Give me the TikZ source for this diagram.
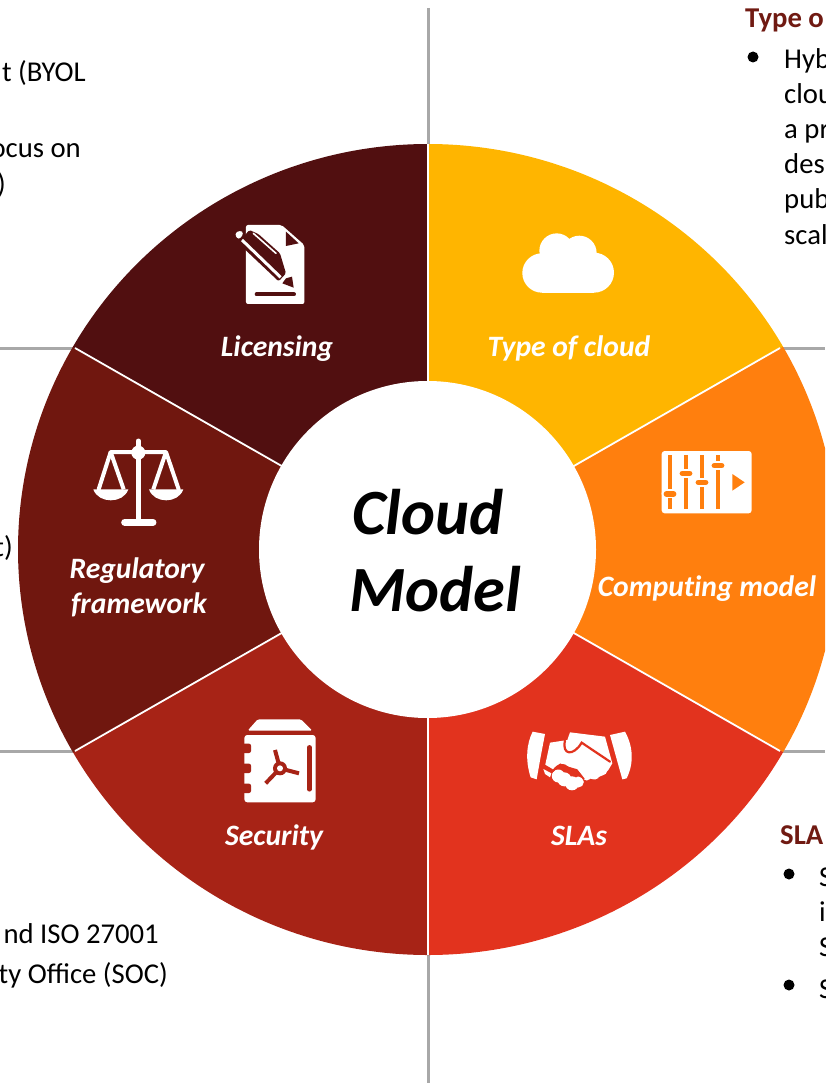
\documentclass[tikz,border=0pt]{standalone}
\usepackage{fontspec}
\setmainfont{Carlito}
\definecolor{cyellow}{HTML}{FFB500}
\definecolor{corange}{HTML}{FF7F0E}
\definecolor{cred}{HTML}{E2331E}
\definecolor{csec}{HTML}{A72316}
\definecolor{creg}{HTML}{70170F}
\definecolor{clic}{HTML}{510F10}
\definecolor{ctitle}{HTML}{701A12}
\definecolor{cgray}{HTML}{A8A8A8}
\tikzset{
 seglabel/.style={text=white,font=\fontsize{29.6}{32}\selectfont\bfseries\itshape\addfontfeatures{Ligatures=NoCommon},inner sep=0pt},
 bodytext/.style={text=black,font=\fontsize{28.7}{34}\selectfont,inner sep=0pt},
 headtext/.style={text=ctitle,font=\fontsize{28.7}{34}\selectfont\bfseries,inner sep=0pt},
 hubtext/.style={text=black,font=\fontsize{64.5}{70}\selectfont\bfseries\itshape,inner sep=0pt},
 guide/.style={draw=cgray,line width=3pt},
 sep/.style={draw=white,line width=1.8pt},
 bullet/.style={fill=black,circle,minimum size=11pt,inner sep=0pt},
}
\newcommand{\pieslice}[3]{\fill[#1] (428,549.5) -- ({428+410*cos(#2)},{549.5-405.5*sin(#2)}) arc[start angle=#2,end angle=#3,x radius=410pt,y radius=405.5pt] -- cycle;}
\begin{document}
\begin{tikzpicture}[x=1pt,y=-1pt]
\useasboundingbox (0,0) rectangle (825,1083);
\begin{scope}
\clip (0,0) rectangle (825,1083);
\coordinate (c) at (428,549.5);
\coordinate (gt0) at (428,8); \coordinate (gt1) at (428,144);
\coordinate (gb0) at (428,955); \coordinate (gb1) at (428,1083);
\coordinate (gl0) at (0,348); \coordinate (gl1) at (75,348);
\coordinate (gl2) at (0,751); \coordinate (gl3) at (75,751);
\coordinate (gr0) at (780,348); \coordinate (gr1) at (825,348);
\coordinate (gr2) at (780,751); \coordinate (gr3) at (825,751);
\draw[guide] (gt0)--(gt1); \draw[guide] (gb0)--(gb1);
\draw[guide] (gl0)--(gl1); \draw[guide] (gl2)--(gl3);
\draw[guide] (gr0)--(gr1); \draw[guide] (gr2)--(gr3);
\pieslice{cyellow}{30}{90}
\pieslice{corange}{-30}{30}
\pieslice{cred}{-90}{-30}
\pieslice{csec}{-150}{-90}
\pieslice{creg}{150}{210}
\pieslice{clic}{90}{150}
\draw[sep] (c)--(428,144);
\draw[sep] (c)--(428,955);
\draw[sep] (c)--(gr0);
\draw[sep] (c)--(gr2);
\draw[sep] (c)--(gl1);
\draw[sep] (c)--(gl3);
\node[circle,fill=white,minimum size=337pt,inner sep=0pt] (hub) at (427.5,549.5) {};
\node[hubtext,anchor=base] (h1) at (428,534) {Cloud};
\node[hubtext,anchor=base] (h2) at (435.5,611) {Model};
% labels
\node[seglabel,anchor=base] (l1) at (277,356.5) {Licensing};
\node[seglabel,anchor=base] (l2) at (569,356.5) {Type of cloud};
\node[seglabel,anchor=base] (l3) at (707,596.5) {Computing model};
\node[seglabel,anchor=base] (l4) at (137,578.5) {Regulatory};
\node[seglabel,anchor=base] (l5) at (139,613.5) {framework};
\node[seglabel,anchor=base] (l6) at (274,845.5) {Security};
\node[seglabel,anchor=base] (l7) at (579,845.5) {SLAs};
% side text
\node[headtext,anchor=base west] (t1) at (745,28) {Type o};
\node[bullet] (b1) at (753,57) {};
\node[bodytext,anchor=base west] (t2) at (784,69) {Hyb};
\node[bodytext,anchor=base west] (t3) at (784,104) {clou};
\node[bodytext,anchor=base west] (t4) at (784,139) {a pr};
\node[bodytext,anchor=base west] (t5) at (784,174) {des};
\node[bodytext,anchor=base west] (t6) at (784,209) {pub};
\node[bodytext,anchor=base west] (t7) at (784,244) {scal};
\node[headtext,anchor=base west] (t8) at (780,844) {SLA};
\node[bullet] (b2) at (789,874) {};
\node[bullet] (b3) at (789,985) {};
\node[bodytext,anchor=base west] (t9) at (819,886) {S};
\node[bodytext,anchor=base west] (t10) at (819,921) {i};
\node[bodytext,anchor=base west] (t11) at (819,956) {S};
\node[bodytext,anchor=base west] (t12) at (819,998) {S};
\node[bodytext,anchor=base east] (t13) at (86,82) {t (BYOL};
\node[bodytext,anchor=base east] (t14) at (81,158) {ocus on};
\node[bodytext,anchor=base east] (t15) at (6,194) {)};
\node[bodytext,anchor=base east] (t16) at (13,556) {t)};
\node[bodytext,anchor=base east] (t17) at (159,943) {nd ISO 27001};
\node[bodytext,anchor=base east] (t18) at (168,983) {ty Office (SOC)};
% licensing icon
\begin{scope}[shift={(200,210)},x=0.3333pt,y=-0.3333pt]
\fill[white,rounded corners=2pt] (138,45) -- (245,45) -- (313,105) -- (313,282) -- (138,282) -- cycle;
\fill[clic] (258,65) -- (258,108) -- (296,100) -- cycle;
\draw[clic,line width=4pt,line cap=round] (170,253) -- (282,253);
\fill[clic,rounded corners=1.5pt] (148,60) -- (175,72) -- (240,130) -- (258,190) -- (236,214) -- (128,112) -- (118,96) -- cycle;
\draw[white,line width=3pt] (126,90) -- (242,202);
\draw[white,line width=1.6pt,line cap=round] (160,70) -- (228,130);
\fill[white,rounded corners=3pt] (103,72) -- (120,60) -- (132,70) -- (116,90) -- cycle;
\fill[clic] (258,205) -- (276,200) -- (281,233) -- (247,220) -- cycle;
\end{scope}
% cloud icon
\begin{scope}[shift={(510,220)},x=0.3333pt,y=-0.3333pt]
\fill[white] (96,159) circle[radius=19.7pt];
\fill[white] (252,158) circle[radius=20pt];
\fill[white] (140,92) circle[radius=17.3pt];
\fill[white] (208,99) circle[radius=17.3pt];
\fill[white] (96,100) rectangle (252,218);
\end{scope}
% computing icon
\begin{scope}[shift={(640,440)},x=0.3333pt,y=-0.3333pt]
\fill[white,rounded corners=3pt] (65,33) rectangle (335,220);
\fill[corange] (277,102) -- (277,152) -- (314,127) -- cycle;
\foreach \px/\py in {90/162,138/100,186/127,234/77}{
 \draw[corange,line width=4pt] (\px,45) -- (\px,208);
 \draw[white,line width=9pt,line cap=round] (\px-12,\py) -- (\px+12,\py);
 \draw[corange,line width=5.5pt,line cap=round] (\px-11,\py) -- (\px+11,\py);
}
\end{scope}
% handshake icon
\begin{scope}[shift={(510,720)},x=0.3333pt,y=-0.3333pt]
\fill[white] (68,35) -- (105,42) -- (92,110) -- (80,178) -- (62,172) .. controls (45,120) and (50,70) .. cycle;
\fill[white] (300,45) -- (345,35) .. controls (370,80) and (372,130) .. (350,175) -- (337,178) -- (318,110) -- cycle;
\fill[white] (120,68) -- (172,60) -- (180,37) -- (285,50) -- (307,130) -- (295,150) -- (280,165) -- (250,178) -- (222,172) -- (200,150) -- (150,130) -- (128,150) -- (105,138) -- cycle;
\foreach \fx/\fy/\fr in {145/168/6.5,163/178/7,186/190/7,205/186/5.5,230/168/4.5,255/165/4.5,278/152/4.5}{\fill[white] (\fx,\fy) circle[radius=\fr pt];}
\fill[white] (100,147) -- (124,160) -- (120,172) -- (105,162) -- cycle;
\draw[cred,line width=2.2pt,line cap=round] (165,62) .. controls (155,105) and (190,110) .. (215,68) -- (300,125);
\draw[cred,line width=1.8pt] (103,136) -- (130,152) .. controls (145,130) and (160,130) .. (175,143) -- (200,150) -- (222,178);
\end{scope}
% safe icon
\begin{scope}[shift={(225,710)},x=0.3333pt,y=-0.3333pt]
\fill[white,rounded corners=1.5pt] (68,62) -- (98,28) -- (228,28) -- (262,62) -- cycle;
\fill[white,rounded corners=3pt] (58,75) rectangle (272,277);
\foreach \ny in {115,175,235}{\fill[csec,rounded corners=2pt] (50,\ny-14) rectangle (78,\ny+14);}
\draw[csec,line width=4.5pt,line cap=round] (253,112) -- (253,238);
\draw[csec,line width=4pt] (165,175) -- (150,120);
\draw[csec,line width=4pt] (165,175) -- (222,190);
\draw[csec,line width=4pt] (165,175) -- (122,220);
\fill[csec] (165,175) circle[radius=7pt];
\fill[white] (165,175) circle[radius=3pt];
\end{scope}
% scales icon
\begin{scope}[shift={(80,430)},x=0.3333pt,y=-0.3333pt]
\draw[white,line width=5pt,line cap=round] (175,33) -- (175,275);
\fill[white] (175,68) circle[radius=7pt];
\draw[white,line width=4pt,line cap=round,line join=round] (56,178) -- (92,66) -- (258,66) -- (296,178);
\draw[white,line width=4pt] (92,66) -- (131,178);
\draw[white,line width=4pt] (258,66) -- (220,178);
\draw[white,line width=7pt,line cap=round] (134,277) -- (219,277);
\fill[white] (40,178) -- (145,178) .. controls (130,222) and (55,222) .. cycle;
\fill[white] (207,178) -- (310,178) .. controls (295,222) and (222,222) .. cycle;
\end{scope}
\end{scope}
\end{tikzpicture}
\end{document}
